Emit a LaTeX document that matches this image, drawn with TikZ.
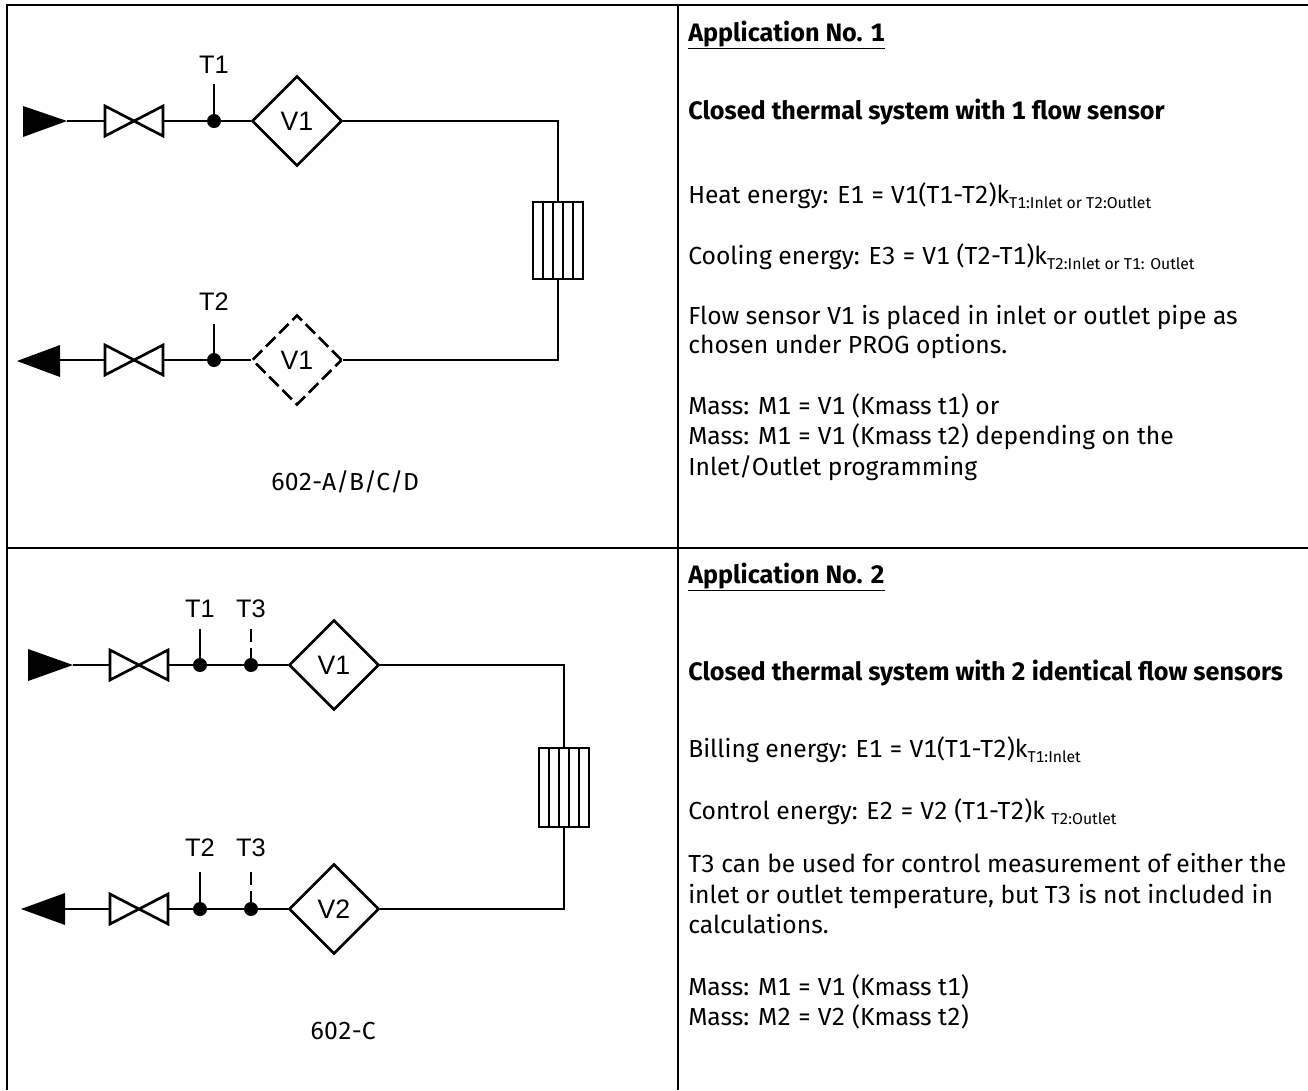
\documentclass[tikz,border=0pt]{standalone}
\usepackage{fontspec}
\setmainfont{Fira Sans}[Numbers = Monospaced]
\newfontfamily\labelfont{Liberation Sans}
\usetikzlibrary{shapes.geometric}
\newcommand{\subtxt}[1]{\raisebox{-.4ex}{\fontsize{11.8}{11.8}\selectfont #1}}
\tikzset{
  pipe/.style = {line width = 2pt},
  grid/.style = {line width = 1.5pt},
  flow/.style = {draw, diamond, pipe, aspect = 1, minimum size = 67.5pt, inner sep = 0pt, font = \labelfont\fontsize{20}{20}\selectfont},
  tag/.style = {font = \labelfont\fontsize{19}{19}\selectfont, inner sep = 0pt},
  sensor/.style = {circle, fill = black, minimum size = 10.5pt, inner sep = 0pt},
  txt/.style = {anchor = base west, inner sep = 0pt, font = \fontsize{18.5}{18.5}\selectfont},
  bold/.style = {anchor = base west, inner sep = 0pt, font = \fontsize{18.9}{18.9}\selectfont\bfseries},
  pics/valve/.style = {code = {
    \draw[pipe] (-29, -15)--(29, 15)--(29, -15)--(-29, 15)--cycle;
    \coordinate (-in) at (-29, 0);
    \coordinate (-out) at (29, 0);
  }}
}
\begin{document}
\begin{tikzpicture}[x = .75pt, y = -.75pt]
  \useasboundingbox (0, 0) rectangle (1308, 1090);
  % table rules
  \draw[grid] (7, 1090)--(7, 5)--(1308, 5);
  \draw[grid] (7, 548)--(1308, 548);
  \draw[grid] (678, 5)--(678, 1090);

  % first application
  \fill (23, 106)--(67, 121)--(23, 137)--cycle;
  \coordinate (inA) at (67, 121);
  \pic (valveA) at (134, 121) {valve};
  \node[sensor] (sensorA) at (214, 121) {};
  \node[tag] (tagTa) at (214, 65) {T1};
  \coordinate (stemTa) at (214, 84);
  \node[flow] (flowA) at (297, 121) {V1};
  \coordinate (cornerA) at (558, 121);
  \draw[pipe] (inA)--(valveA-in);
  \draw[pipe] (valveA-out)--(sensorA.center)--(flowA.west);
  \draw[pipe] (stemTa)--(sensorA.center);
  \draw[pipe] (flowA.east)--(cornerA)--(558, 202);
  \draw[pipe] (533, 202) rectangle (583, 279);
  \foreach \i in {543, 553, ..., 573}
    \draw[pipe] (\i, 202)--(\i, 279);
  \coordinate (cornerB) at (558, 360);
  \node[flow, dashed, dash pattern = on 10pt off 4pt] (flowB) at (297, 360) {V1};
  \node[sensor] (sensorB) at (214, 360) {};
  \node[tag] (tagTb) at (214, 302) {T2};
  \coordinate (stemTb) at (214, 324);
  \pic (valveB) at (134, 360) {valve};
  \fill (60, 345)--(17, 361)--(60, 377)--cycle;
  \coordinate (outB) at (60, 360);
  \draw[pipe] (558, 279)--(cornerB)--(flowB.east);
  \draw[pipe] (flowB.west)--(sensorB.center)--(valveB-out);
  \draw[pipe] (stemTb)--(sensorB.center);
  \draw[pipe] (valveB-in)--(outB);
  \node[inner sep = 0pt, font = \fontsize{18.5}{18.5}\selectfont] (typeA) at (345, 482) {602-A/B/C/D};

  % second application
  \fill (28, 649)--(73, 665)--(28, 681)--cycle;
  \coordinate (inC) at (73, 665);
  \pic (valveC) at (139, 665) {valve};
  \node[sensor] (sensorC) at (200, 665) {};
  \node[sensor] (sensorD) at (251, 665) {};
  \node[tag] (tagTc) at (200, 609) {T1};
  \node[tag] (tagTd) at (251, 609) {T3};
  \coordinate (stemTc) at (200, 629);
  \coordinate (stemTd) at (251, 629);
  \node[flow] (flowC) at (334, 665) {V1};
  \coordinate (cornerC) at (564, 665);
  \draw[pipe] (inC)--(valveC-in);
  \draw[pipe] (valveC-out)--(sensorC.center)--(sensorD.center)--(flowC.west);
  \draw[pipe] (stemTc)--(sensorC.center);
  \draw[pipe, dashed, dash pattern = on 10pt off 4pt] (stemTd)--(sensorD.center);
  \draw[pipe] (flowC.east)--(cornerC)--(564, 748);
  \draw[pipe] (539, 748) rectangle (589, 827);
  \foreach \i in {549, 559, ..., 579}
    \draw[pipe] (\i, 748)--(\i, 827);
  \coordinate (cornerD) at (564, 909);
  \node[flow] (flowD) at (334, 909) {V2};
  \node[sensor] (sensorE) at (251, 909) {};
  \node[sensor] (sensorF) at (200, 909) {};
  \node[tag] (tagTe) at (200, 848) {T2};
  \node[tag] (tagTf) at (251, 848) {T3};
  \coordinate (stemTe) at (200, 872);
  \coordinate (stemTf) at (251, 872);
  \pic (valveD) at (139, 909) {valve};
  \fill (65, 893)--(21, 909)--(65, 925)--cycle;
  \coordinate (outD) at (65, 909);
  \draw[pipe] (564, 827)--(cornerD)--(flowD.east);
  \draw[pipe] (flowD.west)--(sensorE.center)--(sensorF.center)--(valveD-out);
  \draw[pipe] (stemTe)--(sensorF.center);
  \draw[pipe, dashed, dash pattern = on 10pt off 4pt] (stemTf)--(sensorE.center);
  \draw[pipe] (valveD-in)--(outD);
  \node[inner sep = 0pt, font = \fontsize{18.5}{18.5}\selectfont] (typeB) at (343, 1031) {602-C};

  % right column
  \node[bold] (titleA) at (688, 41) {\underline{Application No. 1}};
  \node[bold] (headA) at (688, 119) {Closed thermal system with 1 flow sensor};
  \node[txt] (lineAa) at (688, 203) {Heat energy: E1 = V1(T1-T2)k\subtxt{T1:Inlet or T2:Outlet}};
  \node[txt] (lineAb) at (688, 264) {Cooling energy: E3 = V1 (T2-T1)k\subtxt{T2:Inlet or T1: Outlet}};
  \node[txt] (lineAc) at (688, 324) {Flow sensor V1 is placed in inlet or outlet pipe as};
  \node[txt] (lineAd) at (688, 353) {chosen under PROG options.};
  \node[txt] (lineAe) at (688, 414) {Mass: M1 = V1 (Kmass t1) or};
  \node[txt] (lineAf) at (688, 444) {Mass: M1 = V1 (Kmass t2) depending on the};
  \node[txt] (lineAg) at (688, 475) {Inlet/Outlet programming};
  \node[bold] (titleB) at (688, 583) {\underline{Application No. 2}};
  \node[bold] (headB) at (688, 680) {Closed thermal system with 2 identical flow sensors};
  \node[txt] (lineBa) at (688, 757) {Billing energy: E1 = V1(T1-T2)k\subtxt{T1:Inlet}};
  \node[txt] (lineBb) at (688, 819) {Control energy: E2 = V2 (T1-T2)k \subtxt{T2:Outlet}};
  \node[txt] (lineBc) at (688, 872) {T3 can be used for control measurement of either the};
  \node[txt] (lineBd) at (688, 903) {inlet or outlet temperature, but T3 is not included in};
  \node[txt] (lineBe) at (688, 933) {calculations.};
  \node[txt] (lineBf) at (688, 995) {Mass: M1 = V1 (Kmass t1)};
  \node[txt] (lineBg) at (688, 1025) {Mass: M2 = V2 (Kmass t2)};
\end{tikzpicture}
\end{document}
